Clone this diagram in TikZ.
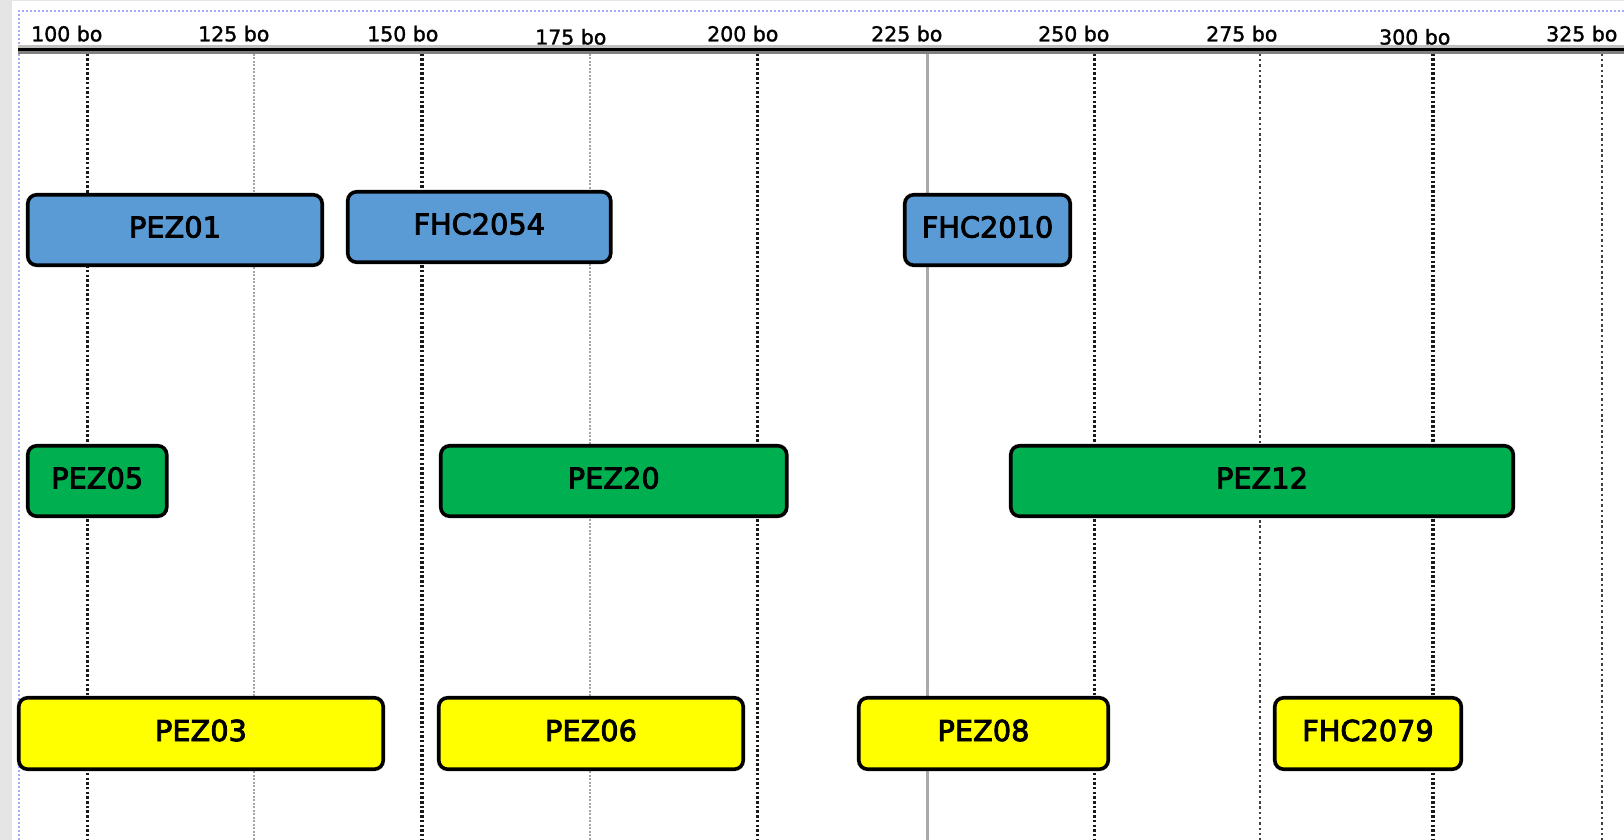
\documentclass[tikz,border=0pt]{standalone}
\usepackage{fontspec}
\newfontfamily\boxfont[FakeBold=3]{DejaVu Sans}
\newfontfamily\rulerfont[FakeBold=1.5]{DejaVu Sans}
\definecolor{boxblue}{RGB}{91,155,213}
\definecolor{boxgreen}{RGB}{0,176,80}
\definecolor{boxyellow}{RGB}{255,255,0}
\definecolor{framegray}{RGB}{229,229,229}
\definecolor{borderblue}{RGB}{165,170,250}
\definecolor{solidgray}{RGB}{170,170,170}
\tikzset{
  bar/.style={draw=black, line width=3.6pt, rounded corners=9pt, inner sep=0pt,
    minimum height=70.5pt, text height=21pt, text depth=6pt,
    font=\boxfont\fontsize{28.8}{30}\selectfont},
  bluebar/.style={bar, fill=boxblue},
  greenbar/.style={bar, fill=boxgreen},
  yellowbar/.style={bar, fill=boxyellow, minimum height=71.5pt},
  rulerlabel/.style={anchor=base west, inner sep=0pt, font=\rulerfont\fontsize{20.5}{22}\selectfont},
  majorline/.style={black!90, line width=3.2pt, dash pattern=on 2.5pt off 2.2pt},
  minorline/.style={gray!70, line width=2.6pt, dash pattern=on 2pt off 1.5pt},
  darkline/.style={black!75, line width=2.8pt, dash pattern=on 2.5pt off 2.8pt},
  solidline/.style={solidgray, line width=3pt}
}
\begin{document}
\begin{tikzpicture}[x=1pt,y=-1pt]
\useasboundingbox (0,0) rectangle (1624,840);
\fill[white] (0,0) rectangle (1624,840);
% frame background
\fill[framegray] (0,0) rectangle (12,840);
\fill[framegray] (0,0) rectangle (1624,1.5);
\draw[borderblue, line width=2pt, dash pattern=on 2pt off 2pt] (19,840) -- (19,11) -- (1624,11);
% ruler band
\fill[gray!50] (18,45.5) rectangle (1624,48);
\fill[black] (18,48) rectangle (1624,51.2);
\fill[gray] (18,51.2) rectangle (1624,53.7);
% vertical grid lines
\draw[majorline] (87.5,53.7) -- (87.5,840);
\draw[minorline] (254,53.7) -- (254,840);
\draw[majorline] (422,53.7) -- (422,840);
\draw[minorline] (590,53.7) -- (590,840);
\draw[majorline] (757.5,53.7) -- (757.5,840);
\draw[solidline] (927,53.7) -- (927,840);
\draw[majorline] (1094.5,53.7) -- (1094.5,840);
\draw[darkline] (1260,53.7) -- (1260,840);
\draw[majorline] (1433,53.7) -- (1433,840);
\draw[darkline] (1602,53.7) -- (1602,840);
% ruler labels
\node[rulerlabel] (l100) at (31,41.3) {100 bo};
\node[rulerlabel] (l125) at (198,41.3) {125 bo};
\node[rulerlabel] (l150) at (367,41.3) {150 bo};
\node[rulerlabel] (l175) at (535,44.5) {175 bo};
\node[rulerlabel] (l200) at (707,41.3) {200 bo};
\node[rulerlabel] (l225) at (871,41.3) {225 bo};
\node[rulerlabel] (l250) at (1038,41.3) {250 bo};
\node[rulerlabel] (l275) at (1206,41.3) {275 bo};
\node[rulerlabel] (l300) at (1379,44.5) {300 bo};
\node[rulerlabel] (l325) at (1546,41.3) {325 bo};
% row 1
\node[bluebar, minimum width=294.5pt] (pez01) at (175,230) {PEZ01};
\node[bluebar, minimum width=263pt] (fhc2054) at (479.25,227) {FHC2054};
\node[bluebar, minimum width=165.5pt] (fhc2010) at (987.5,230) {FHC2010};
% row 2
\node[greenbar, minimum width=139pt] (pez05) at (97.25,481) {PEZ05};
\node[greenbar, minimum width=346pt] (pez20) at (613.75,481) {PEZ20};
\node[greenbar, minimum width=502.5pt] (pez12) at (1262,481) {PEZ12};
% row 3
\node[yellowbar, minimum width=364.5pt] (pez03) at (201,733.5) {PEZ03};
\node[yellowbar, minimum width=304.5pt] (pez06) at (591,733.5) {PEZ06};
\node[yellowbar, minimum width=249.5pt] (pez08) at (983.5,733.5) {PEZ08};
\node[yellowbar, minimum width=186.5pt] (fhc2079) at (1368,733.5) {FHC2079};
\end{tikzpicture}
\end{document}
